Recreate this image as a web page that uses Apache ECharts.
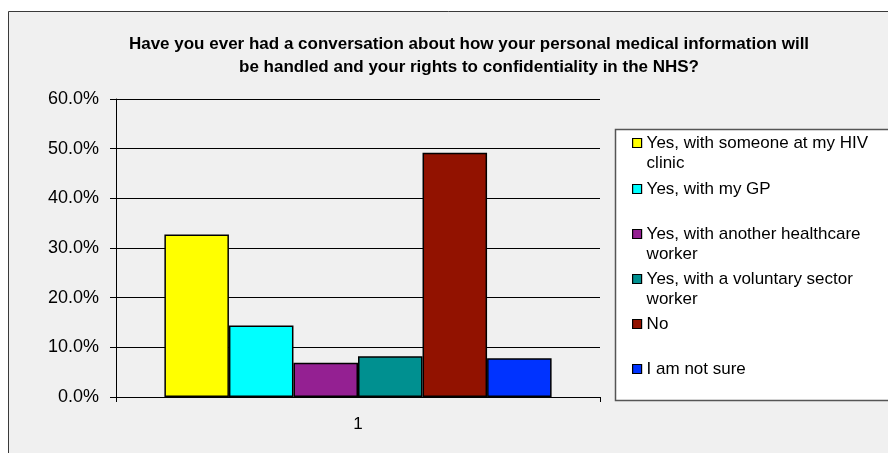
<!DOCTYPE html>
<html>
<head>
<meta charset="utf-8">
<script src="https://cdn.jsdelivr.net/npm/echarts@6/dist/echarts.min.js"></script>
<style>
html,body{margin:0;padding:0;background:#fff;}
#chart{width:888px;height:453px;}
</style>
</head>
<body>
<div id="chart"></div>
<script>
const titleText = 'Have you ever had a conversation about how your personal medical information will\nbe handled and your rights to confidentiality in the NHS?';
const categories = ['1'];
const seriesNames = [
  'Yes, with someone at my HIV clinic',
  'Yes, with my GP',
  'Yes, with another healthcare worker',
  'Yes, with a voluntary sector worker',
  'No',
  'I am not sure'
];
const legendLabels = [
  'Yes, with someone at my HIV\nclinic',
  'Yes, with my GP',
  'Yes, with another healthcare\nworker',
  'Yes, with a voluntary sector\nworker',
  'No',
  'I am not sure'
];
const values = [0.327, 0.144, 0.069, 0.082, 0.492, 0.078];
const colors = ['#ffff00', '#00ffff', '#942092', '#009090', '#921200', '#0033ff'];
const yTicks = [0, 0.1, 0.2, 0.3, 0.4, 0.5, 0.6];

const FONT = '"Liberation Sans", Arial, sans-serif';
const legendCenters = [143, 189, 234, 279, 324, 369];
const LH = 20;

const chart = echarts.init(document.getElementById('chart'), null, {renderer: 'canvas'});

const legends = seriesNames.map((name, i) => {
  const multi = legendLabels[i].indexOf('\n') >= 0;
  return {
    data: [name],
    left: 632,
    top: legendCenters[i] - (multi ? 1.5 * LH : 0.5 * LH),
    orient: 'vertical',
    padding: 0,
    itemWidth: 9,
    itemHeight: 9,
    itemGap: 0,
    icon: 'rect',
    selectedMode: false,
    z: 5,
    itemStyle: {borderColor: '#000', borderWidth: 1.2},
    formatter: () => multi ? ' \n' + legendLabels[i] : legendLabels[i],
    textStyle: {fontFamily: FONT, fontSize: 17, color: '#000', lineHeight: LH, padding: 0}
  };
});

chart.setOption({
  animation: false,
  backgroundColor: 'transparent',
  title: {
    text: titleText,
    left: 469,
    top: 33,
    textAlign: 'center',
    padding: 0,
    textStyle: {fontFamily: FONT, fontSize: 17, fontWeight: 'bold', color: '#000', lineHeight: 23}
  },
  graphic: [
    {type: 'rect', z: -10, silent: true, shape: {x: 8.5, y: 11.5, width: 900, height: 460},
     style: {fill: '#f0f0f0', stroke: '#3a3a3a', lineWidth: 1}},
    {type: 'rect', z: 3, silent: true, shape: {x: 615.5, y: 129.5, width: 300, height: 271},
     style: {fill: '#ffffff', stroke: '#555', lineWidth: 1.5}}
  ],
  legend: legends,
  grid: {left: 116, top: 99, right: 288, bottom: 56, containLabel: false},
  xAxis: {
    type: 'category',
    data: categories,
    axisLine: {lineStyle: {color: '#000', width: 1}},
    axisTick: {show: true, length: 5, lineStyle: {color: '#000'}},
    axisLabel: {fontFamily: FONT, fontSize: 17, color: '#000', margin: 19},
    splitLine: {show: false}
  },
  yAxis: {
    type: 'value',
    min: yTicks[0],
    max: yTicks[yTicks.length - 1],
    interval: 0.1,
    axisLine: {show: true, lineStyle: {color: '#000', width: 1}},
    axisTick: {show: true, length: 6, lineStyle: {color: '#000'}},
    axisLabel: {fontFamily: FONT, fontSize: 18, color: '#000', margin: 17,
      formatter: v => (v * 100).toFixed(1) + '%'},
    splitLine: {show: true, lineStyle: {color: '#000', width: 1}}
  },
  series: seriesNames.map((name, i) => ({
    name: name,
    type: 'bar',
    data: [values[i]],
    barGap: 0,
    barCategoryGap: '20%',
    itemStyle: {color: colors[i], borderColor: '#000', borderWidth: 1.5}
  }))
});
</script>
</body>
</html>
